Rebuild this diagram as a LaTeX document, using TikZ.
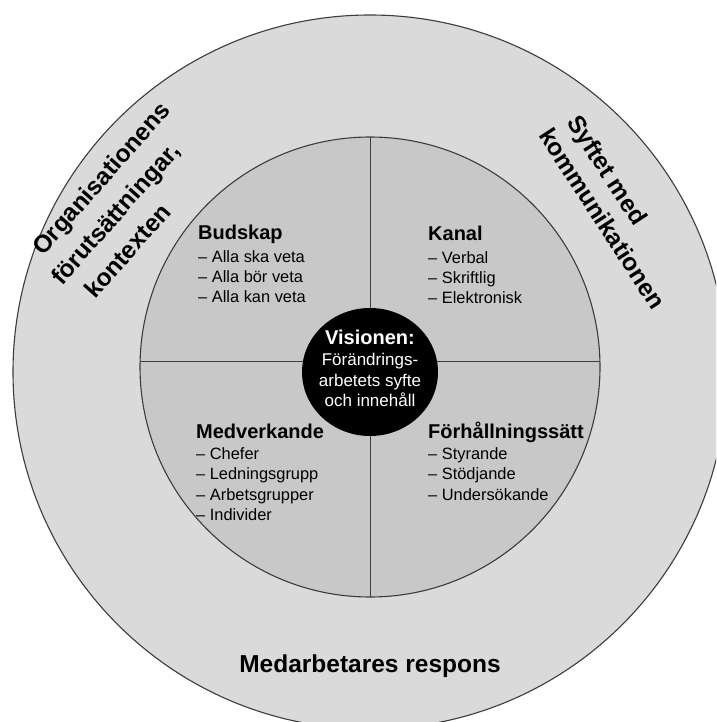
\documentclass[tikz,border=0pt]{standalone}
\usepackage{fontspec}
\setmainfont{Liberation Sans}
\definecolor{outergray}{HTML}{DADADA}
\definecolor{innergray}{HTML}{C8C8C8}
\definecolor{edgegray}{HTML}{3C3C3C}
\begin{document}
\begin{tikzpicture}[x=1pt,y=-1pt,
  ring/.style={draw=edgegray, line width=1.1pt},
  divider/.style={draw=edgegray, line width=1pt},
  head/.style={font=\bfseries\fontsize{20}{24}\selectfont, anchor=base west, inner sep=0pt},
  item/.style={font=\fontsize{16.4}{20}\selectfont, anchor=base west, inner sep=0pt},
  outerlabel/.style={font=\bfseries\fontsize{24.5}{30}\selectfont, anchor=base west, inner sep=0pt},
  vis/.style={text=white, anchor=base, inner sep=0pt}]
\useasboundingbox (0,0) rectangle (716,722);
\clip (0,0) rectangle (716,722);
\fill[white] (0,0) rectangle (716,722);
% circles
\draw[ring, fill=outergray] (370,372) circle (357pt);
\draw[ring, fill=innergray] (370,367) circle (230pt);
\coordinate (vtop) at (370,137);
\coordinate (vbot) at (370,597);
\coordinate (hleft) at (140,361);
\coordinate (hright) at (600,361);
\begin{scope}
\clip (370,367) circle (230pt);
\draw[divider] (vtop) -- (vbot);
\draw[divider] (hleft) -- (hright);
\end{scope}
\fill[black] (370,372) ellipse (68pt and 64pt);
% vision
\node[vis, font=\bfseries\fontsize{20}{24}\selectfont] (v1) at (370,344) {Visionen:};
\node[vis, font=\fontsize{17}{20}\selectfont] (v2) at (370,365) {Förändrings-};
\node[vis, font=\fontsize{17}{20}\selectfont] (v3) at (370,386) {arbetets syfte};
\node[vis, font=\fontsize{17}{20}\selectfont] (v4) at (370,406) {och innehåll};
% Budskap
\node[head] (b0) at (198,239) {Budskap};
\node[item] (b1) at (198,262.7) {– Alla ska veta};
\node[item] (b2) at (198,282.7) {– Alla bör veta};
\node[item] (b3) at (198,302.7) {– Alla kan veta};
% Kanal
\node[head] (k0) at (428,240) {Kanal};
\node[item] (k1) at (428,263) {– Verbal};
\node[item] (k2) at (428,283) {– Skriftlig};
\node[item] (k3) at (428,303) {– Elektronisk};
% Medverkande
\node[head] (m0) at (196,438) {Medverkande};
\node[item] (m1) at (196,459) {– Chefer};
\node[item] (m2) at (196,479.5) {– Ledningsgrupp};
\node[item] (m3) at (196,500) {– Arbetsgrupper};
\node[item] (m4) at (196,520.5) {– Individer};
% Förhållningssätt
\node[head] (f0) at (428,438) {Förhållningssätt};
\node[item] (f1) at (428,459) {– Styrande};
\node[item] (f2) at (428,479.5) {– Stödjande};
\node[item] (f3) at (428,500) {– Undersökande};
% outer ring labels
\node[outerlabel, rotate=48.5] (o1) at (43,256.5) {Organisationens};
\node[outerlabel, rotate=48.5] (o2) at (62,286.5) {förutsättningar,};
\node[outerlabel, rotate=48.5] (o3) at (95.4,300) {kontexten};
\node[outerlabel, rotate=-57] (s1) at (566,122) {Syftet med};
\node[outerlabel, rotate=-57] (s2) at (538,135) {kommunikationen};
\node[outerlabel, anchor=base] (r1) at (370,672) {Medarbetares respons};
\end{tikzpicture}
\end{document}
